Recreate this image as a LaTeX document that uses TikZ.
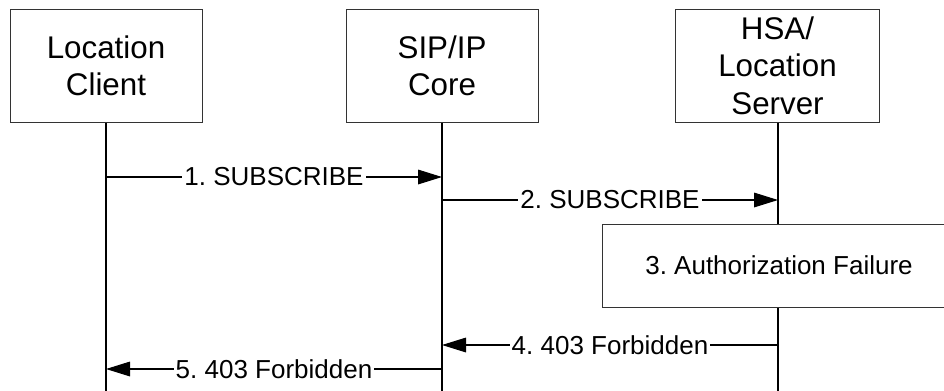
\documentclass[tikz,border=0pt]{standalone}
\usepackage{fontspec}
\setmainfont{Liberation Sans}
\usetikzlibrary{arrows.meta}
\frenchspacing
\begin{document}
\begin{tikzpicture}[x=0.75pt,y=-0.75pt,
  actor/.style={draw=black!80,line width=0.75pt,fill=white,minimum height=84.75pt,
    align=center,inner sep=0pt,font=\fontsize{23.5pt}{28pt}\selectfont},
  life/.style={line width=1.2pt},
  msg/.style={line width=0.8pt,-{Triangle[length=18pt,width=11pt]}},
  lbl/.style={fill=white,inner sep=1.5pt,font=\fontsize{19.5pt}{23pt}\selectfont},
  procbox/.style={draw=black!80,line width=0.75pt,fill=white,minimum width=265.5pt,
    minimum height=62.25pt,inner sep=0pt,font=\fontsize{19.5pt}{23pt}\selectfont}]
\useasboundingbox (0,0) rectangle (944,390);
\node[actor,minimum width=144pt] (lc) at (106,65.5) {Location\\Client};
\node[actor,minimum width=144pt] (sip) at (442,65.5) {SIP/IP\\Core};
\node[actor,minimum width=153pt] (hsa) at (777.5,65.5) {HSA/\\Location\\Server};
\coordinate (lcE) at (106,392);
\coordinate (sipE) at (442,392);
\coordinate (hsaE) at (778,392);
\draw[life] (lc.south) -- (lcE);
\draw[life] (sip.south) -- (sipE);
\draw[life] (hsa.south -| hsaE) -- (hsaE);
\node[procbox] (auth) at (779,265.5) {3. Authorization Failure};
\coordinate (a1s) at (106,177); \coordinate (a1e) at (442,177);
\coordinate (a2s) at (442,200); \coordinate (a2e) at (778,200);
\coordinate (a4s) at (778,345); \coordinate (a4e) at (442,345);
\coordinate (a5s) at (442,369); \coordinate (a5e) at (106,369);
\draw[msg] (a1s) -- node[lbl] {1. SUBSCRIBE} (a1e);
\draw[msg] (a2s) -- node[lbl] {2. SUBSCRIBE} (a2e);
\draw[msg] (a4s) -- node[lbl] {4. 403 Forbidden} (a4e);
\draw[msg] (a5s) -- node[lbl] {5. 403 Forbidden} (a5e);
\end{tikzpicture}
\end{document}
